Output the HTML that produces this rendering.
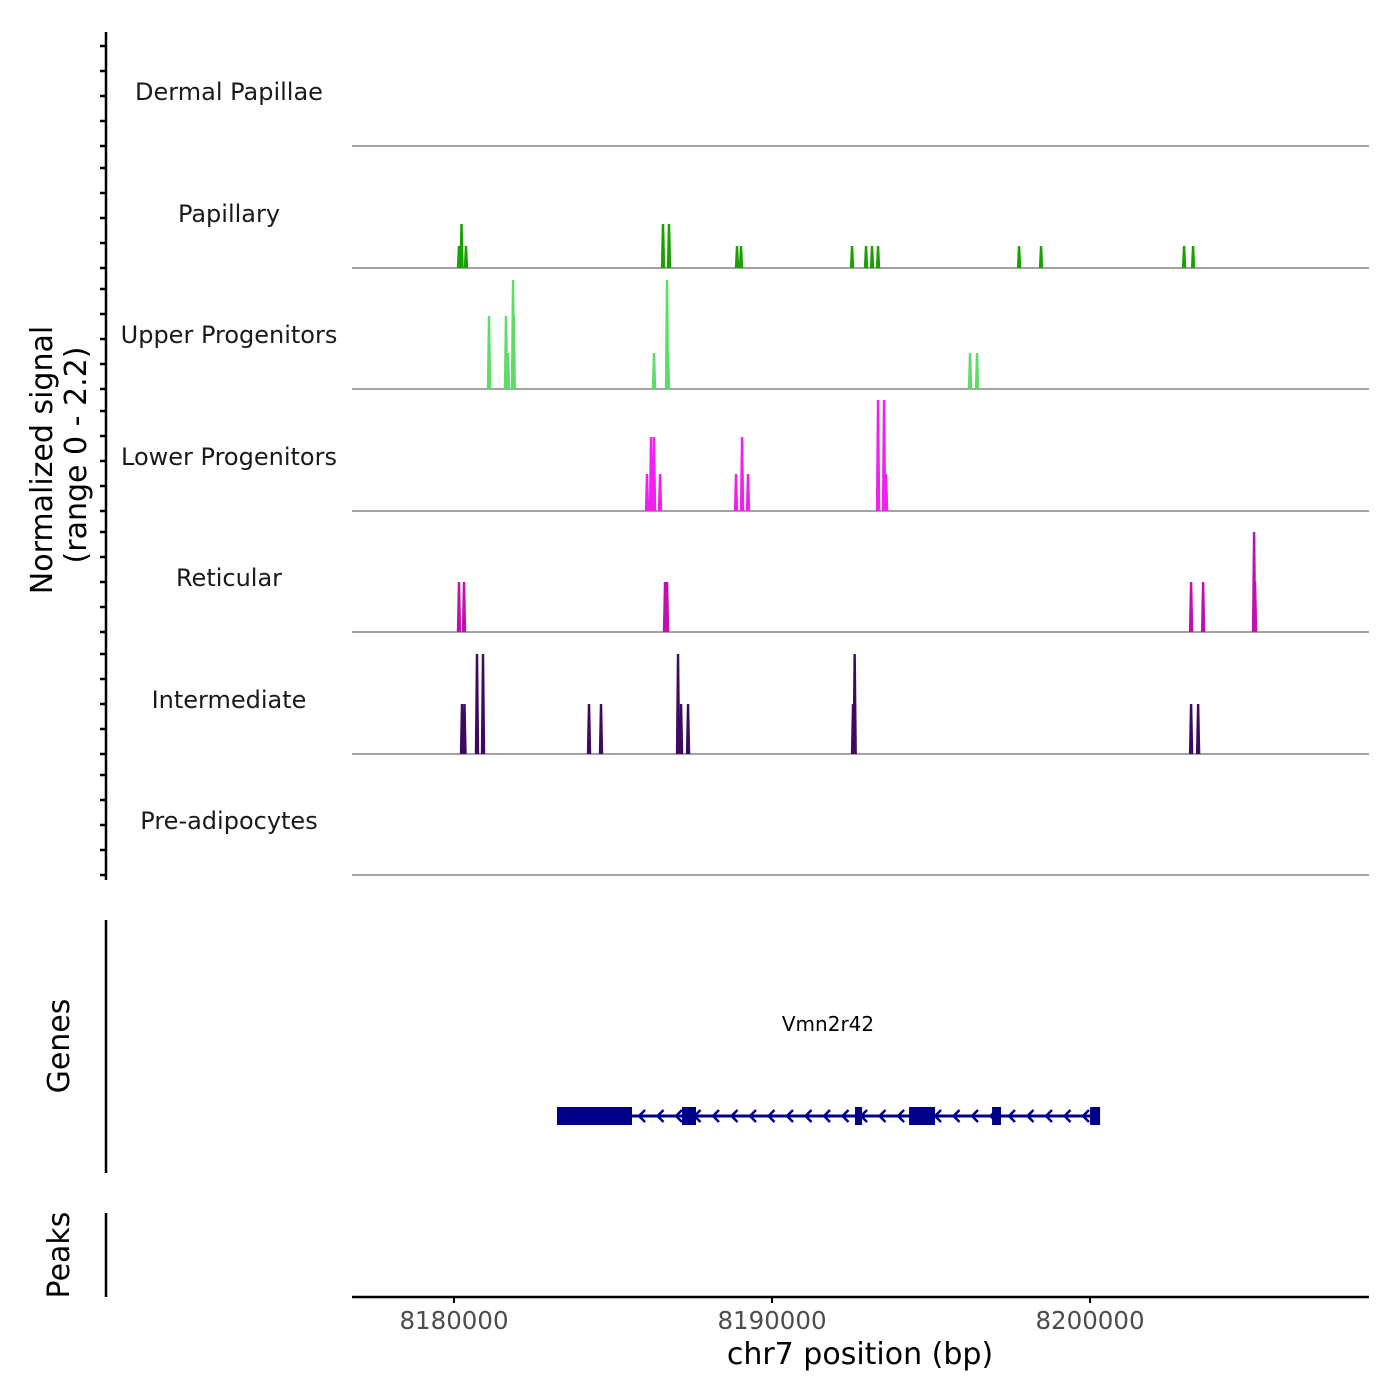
<!DOCTYPE html>
<html><head><meta charset="utf-8"><style>
body{margin:0;background:#fff}
svg{display:block;font-family:"DejaVu Sans","Liberation Sans",sans-serif}
</style></head><body>
<svg id="chart" width="1400" height="1400" viewBox="0 0 1400 1400" xmlns="http://www.w3.org/2000/svg">
<g id="tracks"></g>
<g id="gene"></g>
<g id="axes"></g>
</svg>
<script>
const trackNames = ["Dermal Papillae","Papillary","Upper Progenitors","Lower Progenitors","Reticular","Intermediate","Pre-adipocytes"];
const trackColors = ["#1aa000","#1aa000","#5ddc6a","#f020f0","#c010b0","#3d0a60","#888888"];
const papillaryPos = [8180157,8180236,8180377,8186573,8186762,8188900,8189026,8192517,8192957,8193146,8193335,8197769,8198461,8202959,8203242];
const papillaryVal = [0.44,0.88,0.44,0.88,0.88,0.44,0.44,0.44,0.44,0.44,0.44,0.44,0.44,0.44,0.44];
const upperPos = [8181101,8181635,8181698,8181856,8181880,8186290,8186699,8186730];
const upperVal = [1.46,1.46,0.72,2.18,1.46,0.72,2.18,0.72];
const upperPos2 = [8196228,8196448];
const upperVal2 = [0.72,0.72];
const lowerPos = [8186070,8186196,8186290,8186479,8188869,8189058,8189246,8193335,8193524,8193587];
const lowerVal = [0.74,1.48,1.48,0.74,0.74,1.48,0.74,2.22,2.22,0.74];
const reticularPos = [8180157,8180315,8186636,8186700,8203179,8203557,8205160,8205190];
const reticularVal = [1.0,1.0,1.0,1.0,1.0,1.0,2.0,1.0];
const intermediatePos = [8180252,8180330,8180723,8180912,8184246,8184623,8187045,8187140,8187360,8192549,8192600,8203179,8203400];
const intermediateVal = [1.0,1.0,2.0,2.0,1.0,1.0,2.0,1.0,1.0,1.0,2.0,1.0,1.0];
const xTicks = [8180000,8190000,8200000];
const exonStarts = [8183239,8187171,8192611,8194310,8196920,8200002];
const exonEnds = [8185598,8187611,8192832,8195127,8197203,8200317];
const geneStart = 8183239, geneEnd = 8200317;

const NS="http://www.w3.org/2000/svg";
function xs(bp){return 454+(bp-8180000)*0.0318;}
const baselines=[146,268,389,511,632,754,875];
function ys(v,i){return baselines[i]-v*50;}
function mk(tag,attrs,parent){const e=document.createElementNS(NS,tag);for(const k in attrs)e.setAttribute(k,attrs[k]);parent.appendChild(e);return e;}
const T=document.getElementById('tracks'),G=document.getElementById('gene'),A=document.getElementById('axes');

trackNames.forEach((n,i)=>{
  const t=mk('text',{x:229,y:baselines[i]-46,'text-anchor':'middle','font-size':24,fill:'#1a1a1a'},T);
  t.textContent=n;
  
  
  const l=mk('line',{x1:352,x2:1369,y1:baselines[i],y2:baselines[i],stroke:'#6a6a6a','stroke-width':1.2},T);
  
  
});
function drawPeaks(pos,val,ti){
  pos.forEach((p,j)=>{
    const x=xs(p),y=ys(val[j],ti),b=baselines[ti];
    const pg=mk('polygon',{points:`${x-2.2},${b} ${x-1.2},${y} ${x+1.2},${y} ${x+2.2},${b}`,fill:trackColors[ti]},T);
    
    
  });
}
drawPeaks(papillaryPos,papillaryVal,1);
drawPeaks(upperPos,upperVal,2);
drawPeaks(upperPos2,upperVal2,2);
drawPeaks(lowerPos,lowerVal,3);
drawPeaks(reticularPos,reticularVal,4);
drawPeaks(intermediatePos,intermediateVal,5);

const gl=mk('line',{x1:xs(geneStart),x2:xs(geneEnd),y1:1116,y2:1116,stroke:'#00008b','stroke-width':3},G);


for(let x=xs(geneStart)+10;x<xs(geneEnd)-4;x+=18.5){
  const a=mk('polyline',{points:`${x+4},${1110} ${x-2},${1116} ${x+4},${1122}`,fill:'none',stroke:'#00008b','stroke-width':2.5},G);
  
  
}
exonStarts.forEach((s,j)=>{
  const r=mk('rect',{x:xs(s),y:1107,width:xs(exonEnds[j])-xs(s),height:18,fill:'#00008b'},G);
  
  
});
const gn=mk('text',{x:828,y:1031,'text-anchor':'middle','font-size':20,fill:'#000'},G);
gn.textContent='Vmn2r42';



function ln(x1,y1,x2,y2,w,name){const l=mk('line',{x1,y1,x2,y2,stroke:'#000','stroke-width':w},A);return l;}
ln(106,32,106,880,2.5,'y-axis-line');
for(let i=0;i<7;i++){for(let k=0;k<5;k++){const y=baselines[i]-k*25;if(y<32)continue;ln(100,y,106,y,2.5,'y-tick');}}
ln(106,920,106,1173,2.5,'genes-axis-line');
ln(106,1213,106,1297,2.5,'peaks-axis-line');
ln(352,1297,1369,1297,2.5,'x-axis-line');
xTicks.forEach(v=>{
  ln(xs(v),1297,xs(v),1303,2,'x-tick');
  const t=mk('text',{x:xs(v),y:1329,'text-anchor':'middle','font-size':24.5,fill:'#4d4d4d'},A);
  t.textContent=v;
  
  
});
function txt(s,x,y,size,rot,name){const t=mk('text',{x,y,'text-anchor':'middle','font-size':size,fill:'#000',transform:rot?`rotate(-90 ${x} ${y})`:''},A);t.textContent=s;return t;}
txt('chr7 position (bp)',860,1364,30,false,'x-axis-title');
txt('Normalized signal',52,460,30,true,'y-axis-title');
txt('(range 0 - 2.2)',86,455,30,true,'y-axis-subtitle');
txt('Genes',69,1046,30,true,'genes-title');
txt('Peaks',69,1255,30,true,'peaks-title');
</script>
</body></html>
